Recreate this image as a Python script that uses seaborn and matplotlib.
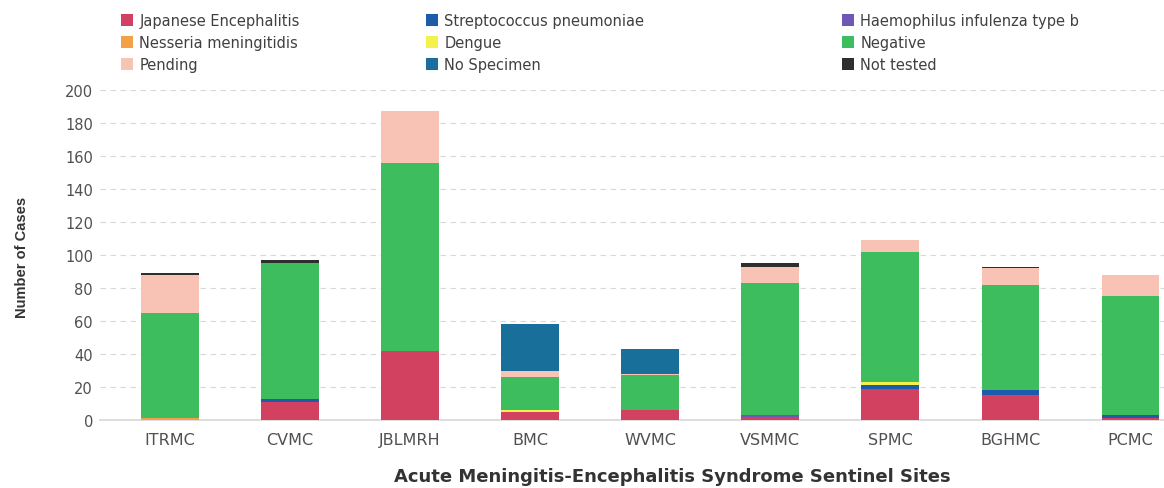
import matplotlib
matplotlib.use("Agg")
import matplotlib.pyplot as plt
from matplotlib.patches import Patch
import numpy as np
import pandas as pd
import seaborn as sns

# Cases per sentinel site, split by final laboratory result
sites = ["ITRMC", "CVMC", "JBLMRH", "BMC", "WVMC", "VSMMC", "SPMC", "BGHMC", "PCMC"]
japanese_enceph = [0, 11, 42, 5, 6, 2, 19, 15, 1]
strep_pneumo = [0, 2, 0, 0, 0, 0, 2, 3, 2]
haemophilus_b = [0, 0, 0, 0, 0, 1, 0, 0, 0]
nesseria = [1, 0, 0, 0, 0, 0, 0, 0, 0]
dengue = [0, 0, 0, 1, 0, 0, 2, 0, 0]
negative = [64, 82, 114, 20, 21, 80, 79, 64, 72]
pending = [23, 0, 31, 4, 1, 10, 7, 10, 13]
no_specimen = [0, 0, 0, 28, 15, 0, 0, 0, 0]
not_tested = [1, 2, 0, 0, 0, 2, 0, 1, 0]

# Stacking order, bottom to top
layers = [
    ("Japanese Encephalitis", japanese_enceph, "#d2415f"),
    ("Streptococcus pneumoniae", strep_pneumo, "#1f5bab"),
    ("Haemophilus infulenza type b", haemophilus_b, "#7057b5"),
    ("Nesseria meningitidis", nesseria, "#f3a047"),
    ("Dengue", dengue, "#f2f24a"),
    ("Negative", negative, "#3dbd5d"),
    ("Pending", pending, "#f8c3b5"),
    ("No Specimen", no_specimen, "#18709a"),
    ("Not tested", not_tested, "#2e2e2e"),
]

sns.set_theme(style="white")
plt.rcParams["font.family"] = ["DejaVu Sans"]

fig = plt.figure(figsize=(11.64, 4.89), dpi=100)
ax = fig.add_axes([100 / 1164, 1 - 421 / 489, 1064 / 1164, 330 / 489])

# Draw cumulative totals from the top layer down so each layer shows its own slice
cum = np.cumsum(np.array([vals for _, vals, _ in layers]), axis=0)
for (name, _, color), heights in reversed(list(zip(layers, cum))):
    df = pd.DataFrame({"site": sites, "total": heights})
    sns.barplot(data=df, x="site", y="total", color=color, saturation=1,
                width=0.48, ax=ax, linewidth=0, zorder=3)

ax.set_xlim(-0.583, 8.28)
ax.set_ylim(0, 200)
ax.set_yticks(np.arange(0, 201, 20))
ax.yaxis.grid(True, linestyle=(0, (5, 4)), color="#d8d8d8", linewidth=0.8, zorder=0)
ax.xaxis.grid(False)
for side in ["top", "right", "left"]:
    ax.spines[side].set_visible(False)
ax.spines["bottom"].set_color("#d9d9d9")
ax.spines["bottom"].set_zorder(1)
ax.tick_params(axis="y", length=0, pad=5, labelsize=10.5, labelcolor="#505050")
ax.tick_params(axis="x", length=0, pad=9, labelsize=11.5, labelcolor="#505050")
ax.set_xlabel("")
ax.set_ylabel("")

fig.text(672 / 1164, 1 - 477 / 489, "Acute Meningitis-Encephalitis Syndrome Sentinel Sites",
         ha="center", va="center", fontsize=13, fontweight="bold", color="#333333")
fig.text(22 / 1164, 1 - 257 / 489, "Number of Cases", rotation=90, ha="center", va="center",
         fontsize=10.5, fontweight="bold", color="#333333",
         family=["DejaVu Sans Condensed", "Liberation Sans Narrow", "Liberation Sans"])

# Legend in three separate columns along the top
handles = {name: Patch(facecolor=color, edgecolor="none") for name, _, color in layers}
columns = [
    (121, ["Japanese Encephalitis", "Nesseria meningitidis", "Pending"]),
    (426, ["Streptococcus pneumoniae", "Dengue", "No Specimen"]),
    (842, ["Haemophilus infulenza type b", "Negative", "Not tested"]),
]
for x0, names in columns:
    leg = fig.legend([handles[n] for n in names], names, loc="upper left",
                     bbox_to_anchor=(x0 / 1164, 1 - 14 / 489), frameon=False,
                     fontsize=10.5, handlelength=0.85, handleheight=0.85,
                     handletextpad=0.4, labelspacing=0.48, borderpad=0, borderaxespad=0)
    for t in leg.get_texts():
        t.set_color("#404040")

fig.savefig("out.png", dpi=100)
